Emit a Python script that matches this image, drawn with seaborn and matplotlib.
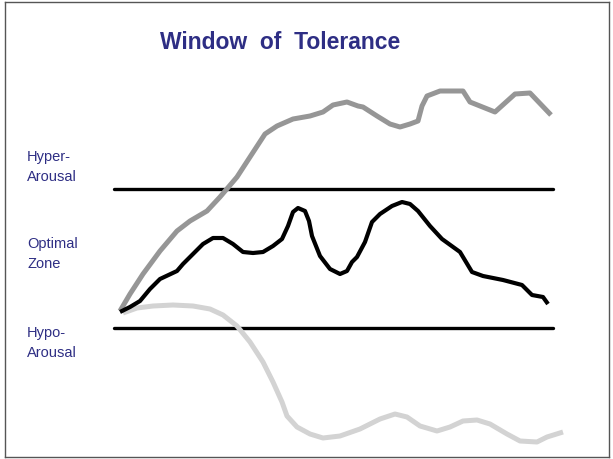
import pandas as pd
import matplotlib.pyplot as plt
import seaborn as sns

# values (time on x, arousal level on y, screen-down)
hyper_t = [120, 130, 143, 160, 177, 190, 207, 220, 237, 250, 265, 277, 293, 310, 323,
           333, 347, 358, 363, 377, 390, 400, 410, 418, 422, 427, 440, 463, 470, 495,
           515, 530, 551]
hyper_y = [312, 295, 275, 252, 232, 222, 212, 198, 178, 158, 135, 127, 120, 117, 113,
           106, 103, 107, 108, 117, 125, 128, 125, 122, 107, 97, 92, 92, 103, 113,
           95, 94, 116]

optimal_t = [120, 130, 140, 150, 160, 177, 183, 193, 203, 213, 223, 233, 243, 253, 263,
             273, 282, 288, 293, 298, 305, 309, 312, 320, 330, 340, 347, 352, 357, 365,
             372, 380, 392, 402, 410, 418, 430, 442, 460, 472, 483, 503, 522, 532, 543,
             548]
optimal_y = [313, 308, 302, 290, 280, 272, 265, 255, 245, 239, 239, 245, 253, 254, 253,
             247, 240, 227, 213, 209, 212, 222, 237, 257, 270, 275, 272, 263, 258, 243,
             223, 215, 207, 203, 205, 212, 227, 240, 253, 273, 277, 281, 286, 296, 298,
             305]

hypo_t = [123, 137, 153, 173, 193, 210, 223, 237, 250, 263, 273, 282, 287, 297, 310,
          323, 340, 360, 380, 395, 407, 420, 437, 450, 463, 477, 490, 507, 520, 537,
          547, 563]
hypo_y = [314, 309, 307, 306, 307, 310, 316, 327, 343, 363, 383, 403, 417, 428, 435,
          439, 437, 430, 420, 415, 418, 427, 432, 428, 422, 421, 425, 435, 442, 443,
          438, 433]

band_t = [114, 553]
upper_band = [190, 190]
lower_band = [329, 329]

zone_labels = ["Hyper-\nArousal", "Optimal\nZone", "Hypo-\nArousal"]
zone_label_y = [167, 254, 343]

navy = "#2e2e84"

sns.set_style("white")
plt.rcParams["font.family"] = ["Liberation Sans", "DejaVu Sans"]

fig = plt.figure(figsize=(6.13, 4.6), dpi=100)
ax = fig.add_axes([5 / 613, 2 / 460, 604 / 613, 455 / 460])

sns.lineplot(x=band_t, y=upper_band, color="black", linewidth=2.4, ax=ax)
sns.lineplot(x=band_t, y=lower_band, color="black", linewidth=2.4, ax=ax)

sns.lineplot(x=hypo_t, y=hypo_y, sort=False, color="#d3d3d3", linewidth=3.6,
             ax=ax, solid_joinstyle="round", solid_capstyle="butt")
sns.lineplot(x=hyper_t, y=hyper_y, sort=False, color="#969696", linewidth=3.6,
             ax=ax, solid_joinstyle="round", solid_capstyle="butt")
sns.lineplot(x=optimal_t, y=optimal_y, sort=False, color="black", linewidth=3.0,
             ax=ax, solid_joinstyle="round", solid_capstyle="butt")

for lab, ly in zip(zone_labels, zone_label_y):
    ax.text(27, ly, lab, color=navy, fontsize=10.5, va="center", ha="left",
            linespacing=1.6)

ax.text(280, 42, "Window  of  Tolerance", color=navy, fontsize=16.5, fontweight="bold",
        ha="center", va="center")

ax.set_xlim(5, 609)
ax.set_ylim(458, 3)
ax.set_xticks([])
ax.set_yticks([])
for s in ax.spines.values():
    s.set_color("#555555")
    s.set_linewidth(1.0)

fig.savefig("out.png", dpi=100, facecolor="white")
